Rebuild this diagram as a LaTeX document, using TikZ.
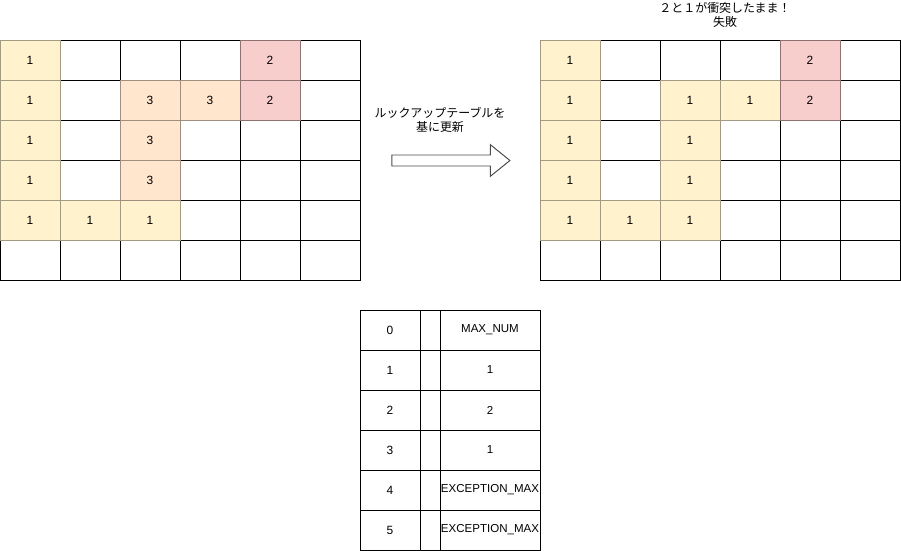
\documentclass[tikz,border=0pt]{standalone}
\usepackage{fontspec}
\setmainfont{Liberation Sans}
\newfontfamily\jpfont{Noto Sans CJK JP}
\usepackage{xcolor}
\usetikzlibrary{shapes.arrows, positioning}

\definecolor{cellyellow}{HTML}{FFF2CC}
\definecolor{cellpeach}{HTML}{FFE6CC}
\definecolor{cellred}{HTML}{F8CECC}
\definecolor{edgeyellow}{HTML}{A39A84}
\definecolor{edgepeach}{HTML}{A08E80}
\definecolor{edgered}{HTML}{8E7272}
\newcommand{\cellfont}{\fontsize{8.5}{10}\selectfont}

\begin{document}
\begin{tikzpicture}[
    x=0.025cm, y=-0.025cm,
    cell/.style={rectangle, draw=black, line width=0.7pt, minimum width=1.5cm, minimum height=1cm, inner sep=0pt, outer sep=0pt, font=\cellfont},
    ycell/.style={cell, fill=cellyellow, draw=edgeyellow},
    pcell/.style={cell, fill=cellpeach, draw=edgepeach},
    rcell/.style={cell, fill=cellred, draw=edgered},
    tcell/.style={cell, minimum width=#1},
    note/.style={align=center, font=\jpfont\cellfont, inner sep=0pt}
]
\useasboundingbox (0,0) rectangle (901,551);

% label grids (before / after)
\foreach \r in {0,...,5}{
  \foreach \c in {0,...,5}{
    \node[cell] (before_\r_\c) at (30+60*\c, 60+40*\r) {};
    \node[cell] (after_\r_\c) at (570+60*\c, 60+40*\r) {};
  }
}

\foreach \r/\c/\s/\v in {0/0/ycell/1, 1/0/ycell/1, 2/0/ycell/1, 3/0/ycell/1, 4/0/ycell/1, 4/1/ycell/1, 4/2/ycell/1,
    1/2/pcell/3, 1/3/pcell/3, 2/2/pcell/3, 3/2/pcell/3, 0/4/rcell/2, 1/4/rcell/2}{
  \node[\s] (bval_\r_\c) at (before_\r_\c) {\v};
}
\foreach \r/\c/\s/\v in {0/0/ycell/1, 1/0/ycell/1, 2/0/ycell/1, 3/0/ycell/1, 4/0/ycell/1, 4/1/ycell/1, 4/2/ycell/1,
    1/2/ycell/1, 1/3/ycell/1, 2/2/ycell/1, 3/2/ycell/1, 0/4/rcell/2, 1/4/rcell/2}{
  \node[\s] (aval_\r_\c) at (after_\r_\c) {\v};
}

% lookup table
\foreach \k/\v [count=\r from 0] in {0/MAX\_NUM, 1/1, 2/2, 3/1, 4/EXCEPTION\_MAX, 5/EXCEPTION\_MAX}{
  \node[tcell=1.5cm] (lut_key_\r) at (390, 330+40*\r) {\k};
  \node[tcell=0.5cm] (lut_gap_\r) at (430, 330+40*\r) {};
  \node[tcell=2.5cm, font=\fontsize{8.2}{10}\selectfont] (lut_val_\r) at (490, 330+40*\r) {\makebox[2.4cm]{\v}};
}

% update arrow
\node[single arrow, draw=black!70, fill=white, line width=0.7pt, minimum height=2.95cm, inner xsep=0pt, inner ysep=0.125cm,
      single arrow head extend=0.26cm, single arrow tip angle=78] (upd_arrow) at (447.5,160.5) {};
\node[note] (upd_label) at (440,120) {ルックアップテーブルを\\基に更新};

\node[note] (fail_label) at (725,15) {２と１が衝突したまま！\\失敗};

\end{tikzpicture}
\end{document}
